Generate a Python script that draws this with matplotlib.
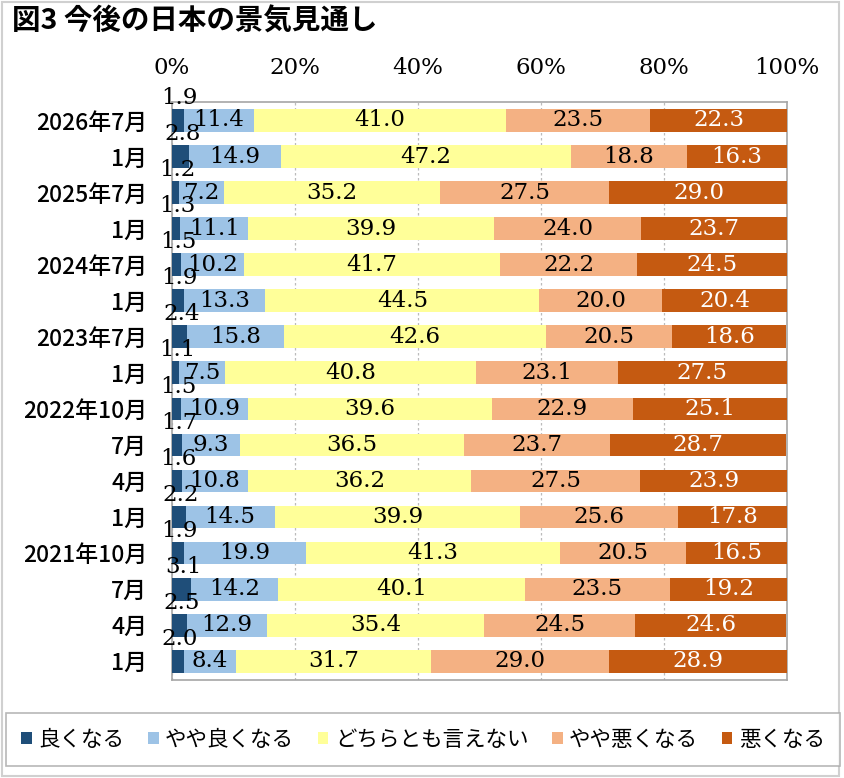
import matplotlib
matplotlib.use("Agg")
import matplotlib.pyplot as plt
import numpy as np
from matplotlib.patches import Rectangle

plt.rcParams['font.family'] = ['Noto Sans CJK JP', 'DejaVu Sans']

categories = ["2026年7月", "1月", "2025年7月", "1月", "2024年7月", "1月", "2023年7月", "1月",
              "2022年10月", "7月", "4月", "1月", "2021年10月", "7月", "4月", "1月"]
series_names = ["良くなる", "やや良くなる", "どちらとも言えない", "やや悪くなる", "悪くなる"]
good = [1.9, 2.8, 1.2, 1.3, 1.5, 1.9, 2.4, 1.1, 1.5, 1.7, 1.6, 2.2, 1.9, 3.1, 2.5, 2.0]
slightly_good = [11.4, 14.9, 7.2, 11.1, 10.2, 13.3, 15.8, 7.5, 10.9, 9.3, 10.8, 14.5, 19.9, 14.2, 12.9, 8.4]
neutral = [41.0, 47.2, 35.2, 39.9, 41.7, 44.5, 42.6, 40.8, 39.6, 36.5, 36.2, 39.9, 41.3, 40.1, 35.4, 31.7]
slightly_bad = [23.5, 18.8, 27.5, 24.0, 22.2, 20.0, 20.5, 23.1, 22.9, 23.7, 27.5, 25.6, 20.5, 23.5, 24.5, 29.0]
bad = [22.3, 16.3, 29.0, 23.7, 24.5, 20.4, 18.6, 27.5, 25.1, 28.7, 23.9, 17.8, 16.5, 19.2, 24.6, 28.9]
xticks = [0, 20, 40, 60, 80, 100]
xticklabels = ["0%", "20%", "40%", "60%", "80%", "100%"]

colors = ["#1F4E79", "#9DC3E6", "#FFFF99", "#F4B183", "#C55A11"]
text_colors = ["black", "black", "black", "black", "white"]

W, H = 844, 778
fig = plt.figure(figsize=(W / 100, H / 100), dpi=100)
ax = fig.add_axes([172 / W, 1 - 680 / H, (787 - 172) / W, (680 - 101.7) / H])

data = [good, slightly_good, neutral, slightly_bad, bad]
n = len(categories)
y = np.arange(n)
left = np.zeros(n)
serif = ['DejaVu Serif']
for i, (vals, col) in enumerate(zip(data, colors)):
    vals = np.array(vals)
    bars = ax.barh(y, vals, left=left, height=0.63, color=col, label=series_names[i], zorder=3)
    for j, b in enumerate(bars):
        v = vals[j]
        if i == 0:
            ax.annotate(f"{v:.1f}", xy=(b.get_x() + b.get_width() / 2 + 0.3, y[j] - 0.315),
                        xytext=(0, 0), textcoords='offset points', ha='center', va='bottom',
                        fontsize=16.5, family=serif, color='black', zorder=5)
        else:
            ax.text(left[j] + v / 2, y[j], f"{v:.1f}", ha='center', va='center',
                    fontsize=16.5, family=serif, color=text_colors[i], zorder=5)
    left += vals

ax.set_xlim(0, 100)
ax.set_ylim(n - 0.5 + 0.02, -0.5 - 0.02)
ax.set_xticks(xticks)
ax.set_xticklabels(xticklabels, family=serif, fontsize=16.5)
ax.xaxis.tick_top()
ax.tick_params(axis='x', length=0, pad=16)
ax.set_yticks(y)
ax.set_yticklabels(categories, fontsize=16.5, fontweight='medium')
ax.tick_params(axis='y', length=0, pad=18)
ax.grid(axis='x', color='#BBBBBB', linestyle=(0, (2, 2)), linewidth=0.9, zorder=0)
for s in ax.spines.values():
    s.set_color('#A6A6A6')
    s.set_linewidth(1.2)

fig.text(12 / W, 1 - 22 / H, "図3 今後の日本の景気見通し", fontsize=20.5, fontweight='bold',
         ha='left', va='center')

leg = fig.legend(loc='center', bbox_to_anchor=(6 / W, 1 - 767 / H, 834 / W, 55 / H), ncol=5,
                 mode='expand', frameon=True, fontsize=15.5, handlelength=0.5, handleheight=0.5,
                 handletextpad=0.3, columnspacing=0.5, borderpad=0.7, borderaxespad=0,
                 fancybox=False, edgecolor='#A6A6A6')
leg.get_frame().set_linewidth(1.2)

fig.add_artist(Rectangle((0.002, 0.003), 0.992, 0.995, transform=fig.transFigure,
                         fill=False, edgecolor='#D0D0D0', linewidth=1.5))

fig.savefig("out.png", dpi=100)
